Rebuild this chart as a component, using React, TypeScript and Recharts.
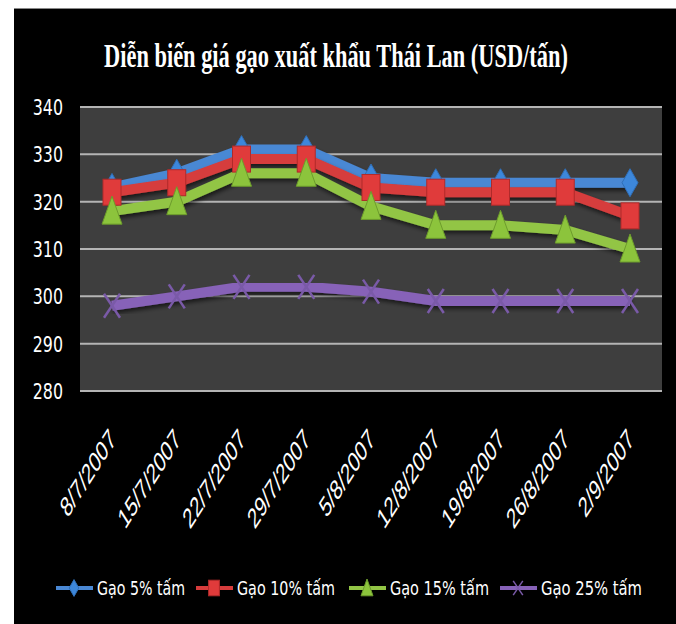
import React from 'react';
import { LineChart, Line, XAxis, YAxis, CartesianGrid, Legend } from 'recharts';

// ngày báo giá
const dates = ['8/7/2007', '15/7/2007', '22/7/2007', '29/7/2007', '5/8/2007', '12/8/2007', '19/8/2007', '26/8/2007', '2/9/2007'];

// giá (USD/tấn)
const gao5 = [323, 326, 331, 331, 325, 324, 324, 324, 324];
const gao10 = [322, 324, 329, 329, 323, 322, 322, 322, 317];
const gao15 = [318, 320, 326, 326, 319, 315, 315, 314, 310];
const gao25 = [298, 300, 302, 302, 301, 299, 299, 299, 299];

const seriesNames = ['Gạo 5% tấm', 'Gạo 10% tấm', 'Gạo 15% tấm', 'Gạo 25% tấm'];
const yTicks = [280, 290, 300, 310, 320, 330, 340];

const data = dates.map((d, i) => ({
    date: d,
    g5: gao5[i],
    g10: gao10[i],
    g15: gao15[i],
    g25: gao25[i],
}));

const COND = '"DejaVu Sans Condensed", "DejaVu Sans", sans-serif';

const BLUE = '#4a88d4';
const RED = '#d63c3c';
const GREEN = '#92c545';
const PURPLE = '#8762b8';

const Diamond = ({ cx, cy, s = 1 }: any) => (
    <polygon
        points={`${cx},${cy - 14 * s} ${cx + 8 * s},${cy} ${cx},${cy + 14 * s} ${cx - 8 * s},${cy}`}
        fill="#3d87da"
        stroke="#2f6fb8"
        strokeWidth={1}
    />
);

const Square = ({ cx, cy, s = 1 }: any) => (
    <rect x={cx - 9 * s} y={cy - 13 * s} width={18 * s} height={26 * s} fill="#e03b3b" stroke="#b02a2a" strokeWidth={1} />
);

const Triangle = ({ cx, cy, s = 1 }: any) => (
    <polygon
        points={`${cx},${cy - 15 * s} ${cx + 10 * s},${cy + 13 * s} ${cx - 10 * s},${cy + 13 * s}`}
        fill="#8cc43c"
        stroke="#6d9c2c"
        strokeWidth={1}
    />
);

const Cross = ({ cx, cy, s = 1 }: any) => (
    <g stroke="#7a5aa8" strokeWidth={2.5 * s}>
        <line x1={cx - 8 * s} y1={cy - 12 * s} x2={cx + 8 * s} y2={cy + 12 * s} />
        <line x1={cx + 8 * s} y1={cy - 12 * s} x2={cx - 8 * s} y2={cy + 12 * s} />
    </g>
);

const markers = [Diamond, Square, Triangle, Cross];
const colors = [BLUE, RED, GREEN, PURPLE];
const keys = ['g5', 'g10', 'g15', 'g25'];

// legend layout (x of line start, text width)
const legendX = [42, 182, 335, 486];
const legendW = [88, 98, 99, 101];

const DateTick = ({ x, y, payload }: any) => (
    <text
        transform={`translate(${x + 5},${y + 50}) scale(1,1.57) rotate(-45)`}
        textAnchor="end"
        fill="#fff"
        fontSize={18}
        fontFamily='"Liberation Sans", sans-serif'
    >
        {payload.value}
    </text>
);

const ValueTick = ({ x, y, payload }: any) => (
    <text
        transform={`translate(${x},${y}) scale(0.8,1)`}
        textAnchor="end"
        dy="0.36em"
        fill="#fff"
        fontSize={22}
        fontFamily={COND}
    >
        {payload.value}
    </text>
);

const LegendContent = () => (
    <svg width={662} height={34} style={{ display: 'block' }}>
        {seriesNames.map((name, i) => {
            const Marker = markers[i];
            const x0 = legendX[i];
            return (
                <g key={name}>
                    <line x1={x0} y1={17} x2={x0 + 37} y2={17} stroke={colors[i]} strokeWidth={4} />
                    <Marker cx={x0 + 18} cy={17} s={0.6} />
                    <text
                        x={x0 + 41}
                        y={17}
                        dy="0.36em"
                        fill="#fff"
                        fontSize={20}
                        fontFamily={COND}
                        textLength={legendW[i]}
                        lengthAdjust="spacingAndGlyphs"
                    >
                        {name}
                    </text>
                </g>
            );
        })}
    </svg>
);

export default function App() {
    return (
        <div style={{ position: 'absolute', left: 0, top: 0, width: 676, height: 624, background: '#fff', overflow: 'hidden' }}>
            <div style={{ position: 'absolute', left: 14, top: 8, width: 662, height: 616, background: '#000', borderTop: '1px solid #888' }}>
                <LineChart width={662} height={616} data={data} margin={{ top: 98, right: 14, left: 16, bottom: 20 }}>
                    <defs>
                        <filter id="sh" x="-10%" y="-20%" width="120%" height="160%">
                            <feDropShadow dx="1.5" dy="3" stdDeviation="2" floodColor="#000" floodOpacity="0.6" />
                        </filter>
                    </defs>
                    <CartesianGrid vertical={false} fill="#3e3e3e" stroke="#b4b4b4" strokeWidth={2} />
                    <XAxis
                        dataKey="date"
                        interval={0}
                        padding={{ left: 32, right: 32 }}
                        axisLine={false}
                        tickLine={false}
                        tickSize={0}
                        tickMargin={0}
                        height={180}
                        tick={(p: any) => <DateTick {...p} />}
                    />
                    <YAxis
                        domain={[280, 340]}
                        ticks={yTicks}
                        interval={0}
                        axisLine={false}
                        tickLine={false}
                        tickSize={0}
                        tickMargin={17}
                        width={50}
                        tick={(p: any) => <ValueTick {...p} />}
                    />
                    <Legend verticalAlign="bottom" content={() => <LegendContent />} wrapperStyle={{ left: 0, width: 662 }} />
                    {keys.map((k, i) => {
                        const Marker = markers[i];
                        return (
                            <Line
                                key={k}
                                type="linear"
                                dataKey={k}
                                name={seriesNames[i]}
                                stroke={colors[i]}
                                strokeWidth={10}
                                filter="url(#sh)"
                                isAnimationActive={false}
                                dot={(p: any) => <Marker key={`${k}-${p.index}`} cx={p.cx} cy={p.cy} />}
                                activeDot={false}
                            />
                        );
                    })}
                </LineChart>
                <svg style={{ position: 'absolute', left: 0, top: 0 }} width={662} height={90}>
                    <text
                        transform="translate(322,58) scale(0.7,1.05)"
                        textAnchor="middle"
                        fill="#fff"
                        fontSize={32}
                        fontWeight="bold"
                        fontFamily='"Liberation Serif", serif'
                    >
                        Diễn biến giá gạo xuất khẩu Thái Lan (USD/tấn)
                    </text>
                </svg>
            </div>
        </div>
    );
}
